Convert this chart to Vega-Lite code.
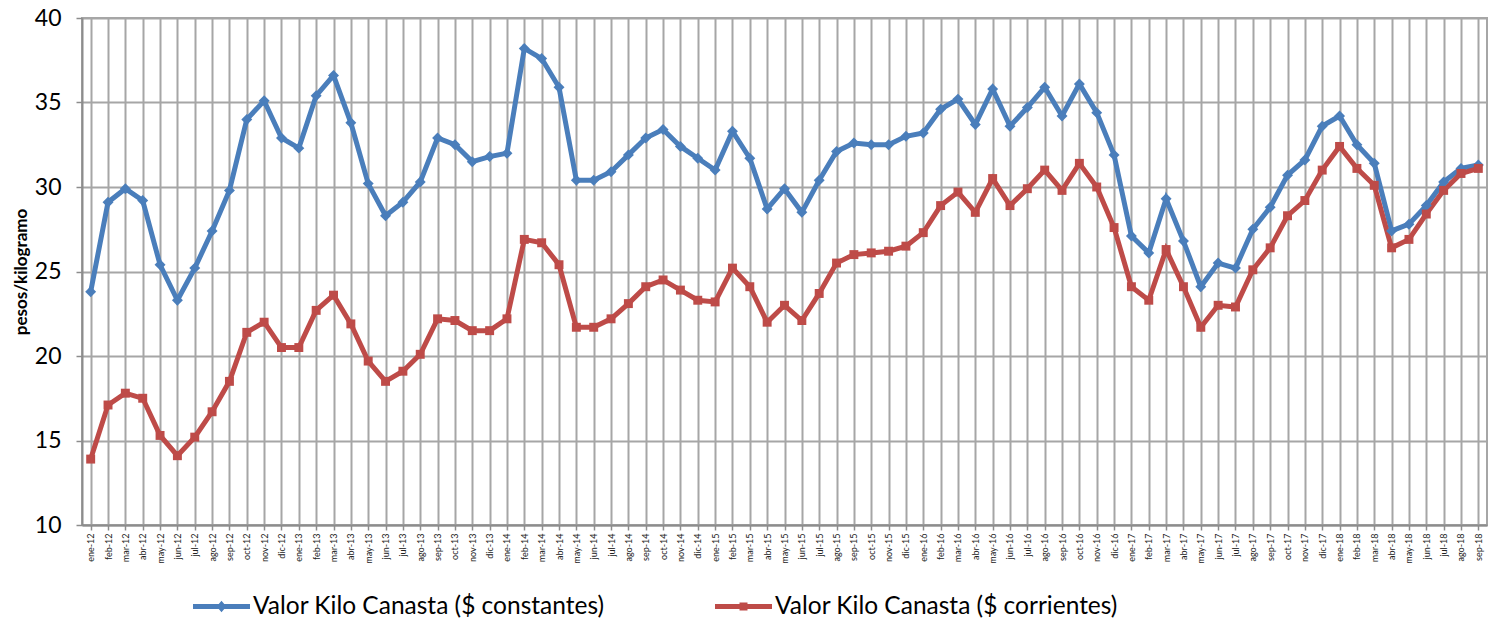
{
  "$schema": "https://vega.github.io/schema/vega-lite/v6.json",
  "width": 1405,
  "height": 507,
  "autosize": "none",
  "padding": {"left": 82, "top": 18, "right": 9, "bottom": 97},
  "background": "white",
  "config": {
    "view": {"stroke": "#a6a6a6", "strokeWidth": 2},
    "font": "Lato",
    "legend": {"padding": 0, "offset": 0}
  },
  "data": {
    "values": [
      {"mes": "ene-12", "constantes": 23.8, "corrientes": 13.9},
      {"mes": "feb-12", "constantes": 29.1, "corrientes": 17.1},
      {"mes": "mar-12", "constantes": 29.9, "corrientes": 17.8},
      {"mes": "abr-12", "constantes": 29.2, "corrientes": 17.5},
      {"mes": "may-12", "constantes": 25.4, "corrientes": 15.3},
      {"mes": "jun-12", "constantes": 23.3, "corrientes": 14.1},
      {"mes": "jul-12", "constantes": 25.2, "corrientes": 15.2},
      {"mes": "ago-12", "constantes": 27.4, "corrientes": 16.7},
      {"mes": "sep-12", "constantes": 29.8, "corrientes": 18.5},
      {"mes": "oct-12", "constantes": 34.0, "corrientes": 21.4},
      {"mes": "nov-12", "constantes": 35.1, "corrientes": 22.0},
      {"mes": "dic-12", "constantes": 32.9, "corrientes": 20.5},
      {"mes": "ene-13", "constantes": 32.3, "corrientes": 20.5},
      {"mes": "feb-13", "constantes": 35.4, "corrientes": 22.7},
      {"mes": "mar-13", "constantes": 36.6, "corrientes": 23.6},
      {"mes": "abr-13", "constantes": 33.8, "corrientes": 21.9},
      {"mes": "may-13", "constantes": 30.2, "corrientes": 19.7},
      {"mes": "jun-13", "constantes": 28.3, "corrientes": 18.5},
      {"mes": "jul-13", "constantes": 29.1, "corrientes": 19.1},
      {"mes": "ago-13", "constantes": 30.3, "corrientes": 20.1},
      {"mes": "sep-13", "constantes": 32.9, "corrientes": 22.2},
      {"mes": "oct-13", "constantes": 32.5, "corrientes": 22.1},
      {"mes": "nov-13", "constantes": 31.5, "corrientes": 21.5},
      {"mes": "dic-13", "constantes": 31.8, "corrientes": 21.5},
      {"mes": "ene-14", "constantes": 32.0, "corrientes": 22.2},
      {"mes": "feb-14", "constantes": 38.2, "corrientes": 26.9},
      {"mes": "mar-14", "constantes": 37.6, "corrientes": 26.7},
      {"mes": "abr-14", "constantes": 35.9, "corrientes": 25.4},
      {"mes": "may-14", "constantes": 30.4, "corrientes": 21.7},
      {"mes": "jun-14", "constantes": 30.4, "corrientes": 21.7},
      {"mes": "jul-14", "constantes": 30.9, "corrientes": 22.2},
      {"mes": "ago-14", "constantes": 31.9, "corrientes": 23.1},
      {"mes": "sep-14", "constantes": 32.9, "corrientes": 24.1},
      {"mes": "oct-14", "constantes": 33.4, "corrientes": 24.5},
      {"mes": "nov-14", "constantes": 32.4, "corrientes": 23.9},
      {"mes": "dic-14", "constantes": 31.7, "corrientes": 23.3},
      {"mes": "ene-15", "constantes": 31.0, "corrientes": 23.2},
      {"mes": "feb-15", "constantes": 33.3, "corrientes": 25.2},
      {"mes": "mar-15", "constantes": 31.7, "corrientes": 24.1},
      {"mes": "abr-15", "constantes": 28.7, "corrientes": 22.0},
      {"mes": "may-15", "constantes": 29.9, "corrientes": 23.0},
      {"mes": "jun-15", "constantes": 28.5, "corrientes": 22.1},
      {"mes": "jul-15", "constantes": 30.4, "corrientes": 23.7},
      {"mes": "ago-15", "constantes": 32.1, "corrientes": 25.5},
      {"mes": "sep-15", "constantes": 32.6, "corrientes": 26.0},
      {"mes": "oct-15", "constantes": 32.5, "corrientes": 26.1},
      {"mes": "nov-15", "constantes": 32.5, "corrientes": 26.2},
      {"mes": "dic-15", "constantes": 33.0, "corrientes": 26.5},
      {"mes": "ene-16", "constantes": 33.2, "corrientes": 27.3},
      {"mes": "feb-16", "constantes": 34.6, "corrientes": 28.9},
      {"mes": "mar-16", "constantes": 35.2, "corrientes": 29.7},
      {"mes": "abr-16", "constantes": 33.7, "corrientes": 28.5},
      {"mes": "may-16", "constantes": 35.8, "corrientes": 30.5},
      {"mes": "jun-16", "constantes": 33.6, "corrientes": 28.9},
      {"mes": "jul-16", "constantes": 34.7, "corrientes": 29.9},
      {"mes": "ago-16", "constantes": 35.9, "corrientes": 31.0},
      {"mes": "sep-16", "constantes": 34.2, "corrientes": 29.8},
      {"mes": "oct-16", "constantes": 36.1, "corrientes": 31.4},
      {"mes": "nov-16", "constantes": 34.4, "corrientes": 30.0},
      {"mes": "dic-16", "constantes": 31.9, "corrientes": 27.6},
      {"mes": "ene-17", "constantes": 27.1, "corrientes": 24.1},
      {"mes": "feb-17", "constantes": 26.1, "corrientes": 23.3},
      {"mes": "mar-17", "constantes": 29.3, "corrientes": 26.3},
      {"mes": "abr-17", "constantes": 26.8, "corrientes": 24.1},
      {"mes": "may-17", "constantes": 24.1, "corrientes": 21.7},
      {"mes": "jun-17", "constantes": 25.5, "corrientes": 23.0},
      {"mes": "jul-17", "constantes": 25.2, "corrientes": 22.9},
      {"mes": "ago-17", "constantes": 27.5, "corrientes": 25.1},
      {"mes": "sep-17", "constantes": 28.8, "corrientes": 26.4},
      {"mes": "oct-17", "constantes": 30.7, "corrientes": 28.3},
      {"mes": "nov-17", "constantes": 31.6, "corrientes": 29.2},
      {"mes": "dic-17", "constantes": 33.6, "corrientes": 31.0},
      {"mes": "ene-18", "constantes": 34.2, "corrientes": 32.4},
      {"mes": "feb-18", "constantes": 32.5, "corrientes": 31.1},
      {"mes": "mar-18", "constantes": 31.4, "corrientes": 30.1},
      {"mes": "abr-18", "constantes": 27.4, "corrientes": 26.4},
      {"mes": "may-18", "constantes": 27.8, "corrientes": 26.9},
      {"mes": "jun-18", "constantes": 28.9, "corrientes": 28.4},
      {"mes": "jul-18", "constantes": 30.3, "corrientes": 29.8},
      {"mes": "ago-18", "constantes": 31.1, "corrientes": 30.8},
      {"mes": "sep-18", "constantes": 31.3, "corrientes": 31.1}
    ]
  },
  "transform": [
    {"fold": ["constantes", "corrientes"], "as": ["serie", "valor"]}
  ],
  "encoding": {
    "x": {
      "field": "mes",
      "type": "ordinal",
      "sort": null,
      "scale": {"paddingInner": 0, "paddingOuter": 0},
      "axis": {
        "title": null,
        "bandPosition": 0,
        "grid": true,
        "gridColor": "#a6a6a6",
        "gridWidth": 2,
        "domainColor": "#8c8c8c",
        "domainWidth": 2,
        "tickColor": "#8c8c8c",
        "tickWidth": 1.5,
        "tickSize": 5,
        "labelAngle": -90,
        "labelAlign": "right",
        "labelBaseline": "middle",
        "labelFont": "Lato",
        "labelFontSize": 9,
        "labelColor": "#222222",
        "labelPadding": 3
      }
    },
    "y": {
      "field": "valor",
      "type": "quantitative",
      "scale": {"domain": [10, 40], "nice": false, "zero": false},
      "axis": {
        "title": "pesos/kilogramo",
        "titleFont": "Lato",
        "titleFontSize": 17,
        "titleFontWeight": "bold",
        "titleColor": "#000000",
        "titlePadding": 4,
        "values": [10, 15, 20, 25, 30, 35, 40],
        "grid": true,
        "gridColor": "#a6a6a6",
        "gridWidth": 2,
        "domainColor": "#8c8c8c",
        "domainWidth": 2,
        "tickColor": "#8c8c8c",
        "tickWidth": 1.5,
        "tickSize": 6,
        "labelFont": "Lato",
        "labelFontSize": 23,
        "labelColor": "#000000",
        "labelPadding": 15
      }
    },
    "color": {
      "field": "serie",
      "type": "nominal",
      "scale": {"domain": ["constantes", "corrientes"], "range": ["#4a7ebb", "#be4b48"]},
      "legend": {
        "title": null,
        "orient": "none",
        "direction": "horizontal",
        "columns": 2,
        "legendX": 111,
        "legendY": 560,
        "symbolType": "M-1,-0.075L1,-0.075L1,0.075L-1,0.075Z M0,-0.2L0.17,0L0,0.2L-0.17,0Z",
        "symbolSize": 3249,
        "symbolStrokeWidth": 0,
        "symbolOpacity": 1,
        "labelFont": "Lato",
        "labelFontSize": 24.5,
        "labelColor": "#000000",
        "labelOffset": 3,
        "columnPadding": 110,
        "labelLimit": 600,
        "labelExpr": "datum.label == 'constantes' ? 'Valor Kilo Canasta ($ constantes)' : 'Valor Kilo Canasta ($ corrientes)'",
        "encode": {
          "symbols": {
            "update": {
              "shape": {"signal": "datum.value == 'constantes' ? 'M-1,-0.085L1,-0.085L1,0.085L-1,0.085Z M0,-0.2L0.17,0L0,0.2L-0.17,0Z' : 'M-1,-0.085L1,-0.085L1,0.085L-1,0.085Z M-0.14,-0.14L0.14,-0.14L0.14,0.14L-0.14,0.14Z'"},
              "size": {"value": 3249},
              "strokeWidth": {"value": 0},
              "fill": {"scale": "color", "field": "value"}
            }
          }
        }
      }
    }
  },
  "layer": [
    {
      "mark": {"type": "line", "strokeWidth": 5}
    },
    {
      "transform": [{"filter": "datum.serie == 'constantes'"}],
      "mark": {"type": "point", "filled": true, "opacity": 1, "shape": "diamond", "size": 120}
    },
    {
      "transform": [{"filter": "datum.serie == 'corrientes'"}],
      "mark": {"type": "point", "filled": true, "opacity": 1, "shape": "square", "size": 80}
    }
  ]
}
